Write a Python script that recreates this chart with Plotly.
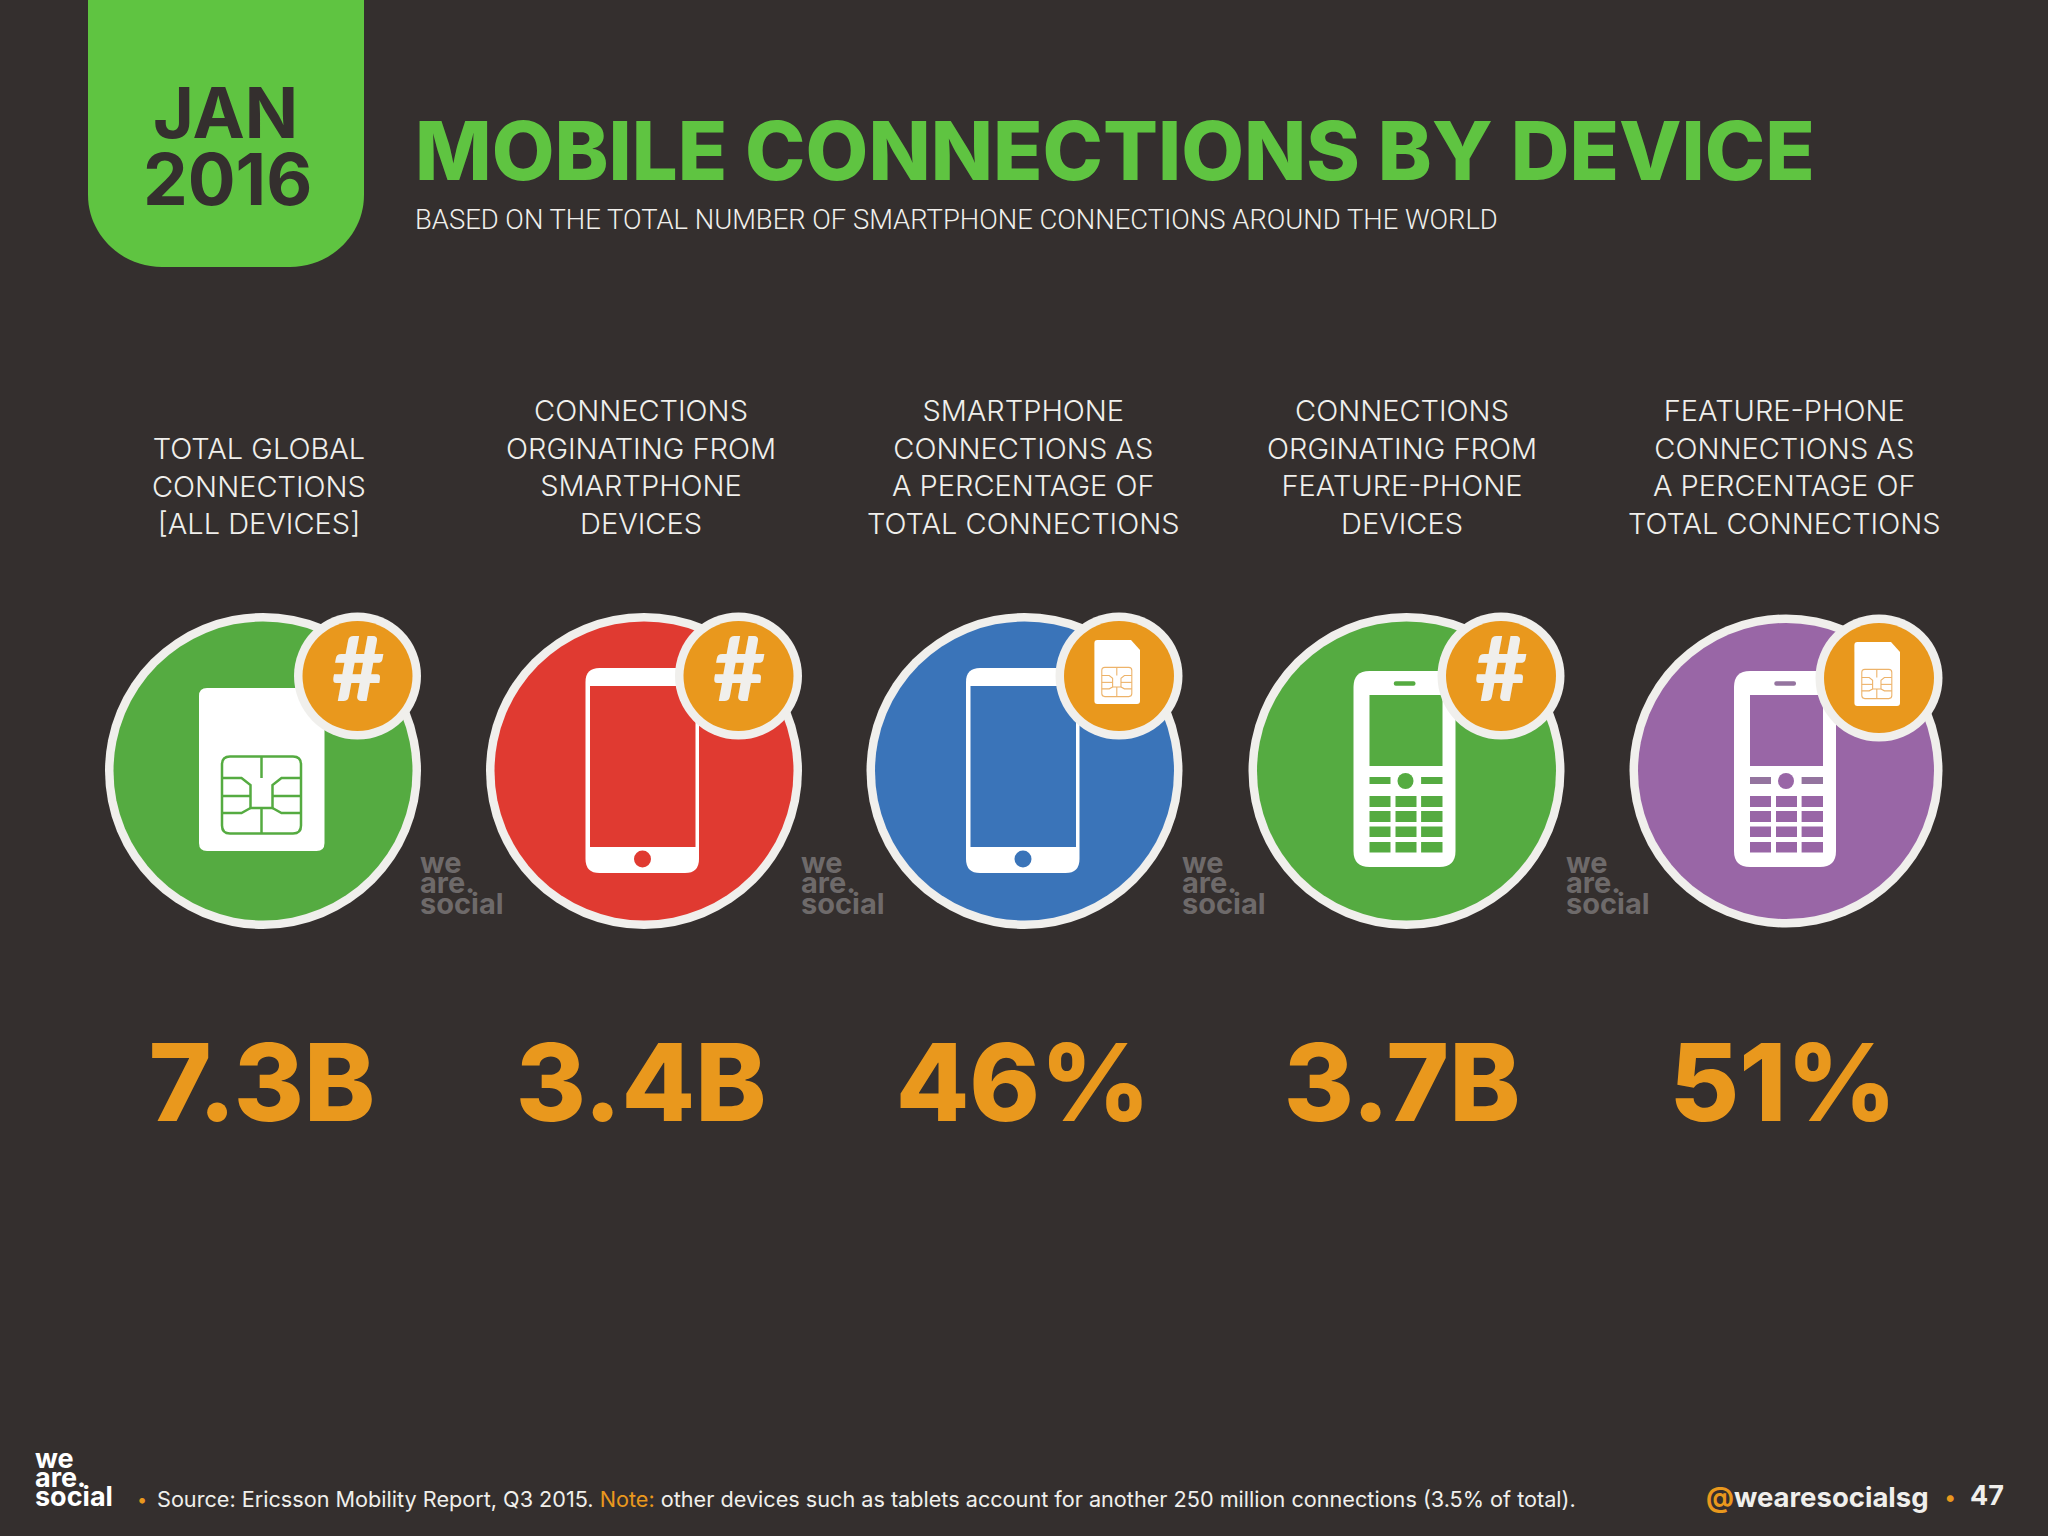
import plotly.graph_objects as go

# slide content
labels = [
    "TOTAL GLOBAL<br>CONNECTIONS<br>[ALL DEVICES]",
    "CONNECTIONS<br>ORGINATING FROM<br>SMARTPHONE<br>DEVICES",
    "SMARTPHONE<br>CONNECTIONS AS<br>A PERCENTAGE OF<br>TOTAL CONNECTIONS",
    "CONNECTIONS<br>ORGINATING FROM<br>FEATURE-PHONE<br>DEVICES",
    "FEATURE-PHONE<br>CONNECTIONS AS<br>A PERCENTAGE OF<br>TOTAL CONNECTIONS",
]
values = ["7.3B", "3.4B", "46%", "3.7B", "51%"]
devices = ["sim", "smart", "smart", "feature", "feature"]
badges = ["#", "#", "sim", "#", "sim"]

BG = "#342F2E"
GREEN = "#5FC441"
ORANGE = "#E9981D"
RING = "#F0EFEC"
GREY = "#6E6A6A"
colors = ["#55AB41", "#E03A31", "#3A74B9", "#55AB41", "#9966A6"]
centers = [263, 644, 1024.5, 1406.5, 1786]
label_x = [259, 641, 1023, 1402, 1784]
value_x = [262, 641, 1023, 1402, 1783]
logo_x = [419, 800, 1181, 1565]
CY = 771

shapes = []


def circle(cx, cy, r, color):
    shapes.append(dict(type="circle", x0=cx - r, x1=cx + r, y0=cy - r, y1=cy + r,
                       fillcolor=color, line=dict(width=0)))


def rect(x0, y0, x1, y1, color):
    shapes.append(dict(type="rect", x0=x0, x1=x1, y0=y0, y1=y1, fillcolor=color, line=dict(width=0)))


def round_path(x0, y0, x1, y1, r):
    return (f"M {x0 + r} {y0} L {x1 - r} {y0} Q {x1} {y0} {x1} {y0 + r} L {x1} {y1 - r} "
            f"Q {x1} {y1} {x1 - r} {y1} L {x0 + r} {y1} Q {x0} {y1} {x0} {y1 - r} "
            f"L {x0} {y0 + r} Q {x0} {y0} {x0 + r} {y0} Z")


def round_rect(x0, y0, x1, y1, r, color):
    shapes.append(dict(type="path", path=round_path(x0, y0, x1, y1, r), fillcolor=color, line=dict(width=0)))


def chip(cx, cy, s, color, w):
    X = lambda v: round(cx + v * s, 2)
    Y = lambda v: round(cy + v * s, 2)
    shapes.append(dict(type="path", path=round_path(X(-39.5), Y(-38.5), X(39.5), Y(38.5), 8 * s),
                       line=dict(color=color, width=w)))
    traces = [
        [(-39.5, -17), (-20, -17), (-11, -10), (-11, 13), (11, 13), (11, -10), (20, -17), (39.5, -17)],
        [(0, -38.5), (0, -17)],
        [(0, 38.5), (0, 13)],
        [(-39.5, 1), (-11, 1)],
        [(11, 1), (39.5, 1)],
        [(-39.5, 18), (-20, 18), (-11, 13)],
        [(39.5, 18), (20, 18), (11, 13)],
    ]
    for pts in traces:
        d = "M " + " L ".join(f"{X(a)} {Y(b)}" for a, b in pts)
        shapes.append(dict(type="path", path=d, line=dict(color=color, width=w)))


def sim_icon(cx, cy, color):
    round_rect(cx - 64, cy - 83, cx + 61.5, cy + 80, 8, "white")
    chip(cx - 1.5, cy + 24, 1, color, 2.5)


def smart_icon(cx, cy, color):
    round_rect(cx - 58.5, cy - 103, cx + 55, cy + 102, 14, "white")
    rect(cx - 54, cy - 85, cx + 51.5, cy + 76, color)
    circle(cx - 1.5, cy + 88, 8.5, color)


def feature_icon(cx, cy, color, nav):
    round_rect(cx - 53, cy - 100, cx + 49, cy + 96, 16, "white")
    round_rect(cx - 12.7, cy - 89.7, cx + 9, cy - 85.3, 2, nav)
    rect(cx - 37, cy - 76, cx + 36, cy - 5, color)
    circle(cx - 1, cy + 10, 8, color)
    rect(cx - 37, cy + 6, cx - 16, cy + 13, nav)
    rect(cx + 14.6, cy + 6, cx + 36, cy + 13, nav)
    for top, bot in [(25, 36), (40, 51), (55.5, 66), (71, 81.5)]:
        for left, right in [(-37, -16), (-11, 10), (14.6, 36)]:
            rect(cx + left, cy + top, cx + right, cy + bot, color)


def mini_sim(bx, by):
    x0, x1 = bx - 24.6, bx + 21
    y0, y1 = by - 36, by + 28
    d = (f"M {x0 + 3} {y0} L {x1 - 9} {y0} L {x1} {y0 + 10} L {x1} {y1 - 3} Q {x1} {y1} {x1 - 3} {y1} "
         f"L {x0 + 3} {y1} Q {x0} {y1} {x0} {y1 - 3} L {x0} {y0 + 3} Q {x0} {y0} {x0 + 3} {y0} Z")
    shapes.append(dict(type="path", path=d, fillcolor="white", line=dict(width=0)))
    chip(bx - 2.2, by + 6, 0.38, "#EDB36A", 1.1)


# green date tab
k = 0.55
tab_l, tab_r, tab_b, rx, ry = 88, 364, 267, 74, 72
shapes.append(dict(
    type="path",
    path=(f"M {tab_l} 0 L {tab_r} 0 L {tab_r} {tab_b - ry} "
          f"C {tab_r} {tab_b - ry + k * ry} {tab_r - rx + k * rx} {tab_b} {tab_r - rx} {tab_b} "
          f"L {tab_l + rx} {tab_b} "
          f"C {tab_l + rx - k * rx} {tab_b} {tab_l} {tab_b - ry + k * ry} {tab_l} {tab_b - ry} Z"),
    fillcolor=GREEN, line=dict(width=0),
))

annotations = []


def text(x, y, s, size, color, weight=400, family="Inter", anchor="left", valign="middle"):
    annotations.append(dict(x=x, y=y, text=s, showarrow=False, xanchor=anchor, yanchor=valign,
                            align=anchor, borderpad=0,
                            font=dict(size=size, color=color, weight=weight, family=family)))


def logo(x, y_we, color, size):
    # three stacked words, y_we is the centre of the first one
    step = size * 0.72
    text(x, y_we, "we", size, color, 700)
    text(x, y_we + step, "are.", size, color, 700)
    text(x, y_we + 2 * step, "social", size, color, 700)


for i, (cx, color) in enumerate(zip(centers, colors)):
    last = i == 4
    r = 156.5 if last else 158
    circle(cx, CY, r, RING)
    circle(cx, CY, r - 8.5, color)
    if devices[i] == "sim":
        sim_icon(cx, CY, color)
    elif devices[i] == "smart":
        smart_icon(cx, CY, color)
    else:
        feature_icon(cx + (1 if last else 0), CY, color, "#94749F" if last else color)

    bx, by = (cx + 93, CY - 93) if last else (cx + 94.5, CY - 95)
    circle(bx, by, 63.5, RING)
    circle(bx, by, 55, ORANGE)
    if badges[i] == "sim":
        mini_sim(bx, by)
    else:
        text(bx, by - 10, "#", 90, RING, 900, family="Lato", anchor="center")

    text(label_x[i], 542, labels[i], 29, RING, 300, anchor="center", valign="bottom")

for x in logo_x:
    logo(x, 862, GREY, 29)

text(225, 112, "JAN", 70, BG, 700, anchor="center")
text(227, 179, "2016", 71, BG, 700, anchor="center")
text(414, 150, "MOBILE CONNECTIONS BY DEVICE", 81.3, GREEN, 800)
text(414, 220, "BASED ON THE TOTAL NUMBER OF SMARTPHONE CONNECTIONS AROUND THE WORLD", 27.4, RING, 300, family="Roboto")

# footer
logo(34, 1458, "white", 27)
text(136, 1499, "•", 18, ORANGE)
text(156, 1499,
     f"Source: Ericsson Mobility Report, Q3 2015. <span style='color:{ORANGE}'>Note:</span> "
     "other devices such as tablets account for another 250 million connections (3.5% of total).",
     21.65, RING, 400)
text(1705, 1497, f"<span style='color:{ORANGE}'>@</span>wearesocialsg", 27.5, RING, 700)
text(1943, 1497, "•", 22, ORANGE)
text(2005, 1495, "47", 27, RING, 700, anchor="right")

fig = go.Figure(go.Scatter(
    x=value_x, y=[1094] * len(values), text=values, mode="text",
    textposition="middle center",
    textfont=dict(size=107, color=ORANGE, family="Inter", weight=800),
    hoverinfo="skip", showlegend=False,
))

fig.update_layout(
    width=2048, height=1536,
    margin=dict(l=0, r=0, t=0, b=0),
    paper_bgcolor=BG, plot_bgcolor=BG,
    xaxis=dict(range=[0, 2048], visible=False, fixedrange=True),
    yaxis=dict(range=[1536, 0], visible=False, fixedrange=True),
    shapes=shapes,
    annotations=annotations,
    showlegend=False,
)

fig.write_html("out.html", config=dict(displayModeBar=False),
               post_script="document.body.style.margin='0';document.body.style.background='#342F2E';")
